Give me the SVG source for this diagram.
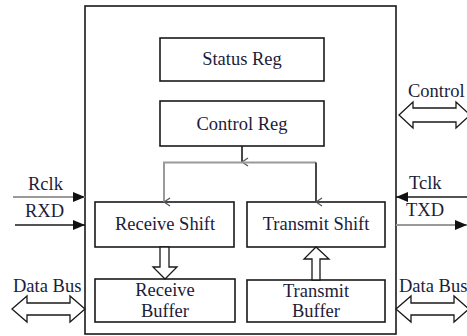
<svg xmlns="http://www.w3.org/2000/svg" width="467" height="336" viewBox="0 0 467 336">
  <defs>
    <style>
      .box { fill: #ffffff; stroke: #1a1a1a; stroke-width: 1.6; }
      .lbl { font-size: 18.5px; fill: #1c1c3a; }
      .mid { text-anchor: middle; }
      .hollow { fill: #ffffff; stroke: #1a1a1a; stroke-width: 1.3; stroke-linejoin: miter; }
      .gray { stroke: #9a9a9a; stroke-width: 2; fill: none; }
      .dark { stroke: #1a1a1a; stroke-width: 1.6; fill: none; }
    </style>
    <marker id="open-tip" viewBox="0 0 10 10" refX="5" refY="9" markerWidth="10" markerHeight="10" markerUnits="userSpaceOnUse" orient="auto-start-reverse">
      <path d="M1,3 L5,9 L9,3" fill="none" stroke="#555" stroke-width="1.3"/>
    </marker>
    <marker id="solid-tip" viewBox="0 0 12 10" refX="12" refY="5" markerWidth="12" markerHeight="10" markerUnits="userSpaceOnUse" orient="auto">
      <path d="M0,0 L12,5 L0,10 Z" fill="#111"/>
    </marker>
  </defs>

  <g font-family="Liberation Serif, DejaVu Serif, serif">
  <!-- enclosing device box -->
  <rect id="device" class="box" x="85" y="6" width="311" height="328"/>

  <g id="status-reg">
    <rect class="box" x="160" y="38" width="164" height="43"/>
    <text class="lbl mid" x="242" y="65">Status Reg</text>
  </g>
  <g id="control-reg">
    <rect class="box" x="160" y="101" width="164" height="45"/>
    <text class="lbl mid" x="242" y="130">Control Reg</text>
  </g>
  <g id="receive-shift">
    <rect class="box" x="95" y="202" width="139" height="45"/>
    <text class="lbl mid" x="165" y="230">Receive Shift</text>
  </g>
  <g id="transmit-shift">
    <rect class="box" x="247" y="202" width="138" height="45"/>
    <text class="lbl mid" x="316" y="230">Transmit Shift</text>
  </g>
  <g id="receive-buffer">
    <rect class="box" x="95" y="279" width="140" height="43"/>
    <text class="lbl mid" x="165" y="296">Receive</text>
    <text class="lbl mid" x="165" y="317">Buffer</text>
  </g>
  <g id="transmit-buffer">
    <rect class="box" x="247" y="280" width="138" height="42"/>
    <text class="lbl mid" x="316" y="297">Transmit</text>
    <text class="lbl mid" x="316" y="317">Buffer</text>
  </g>

  <g id="connectors">
    <!-- control register fan-out -->
    <line class="dark" x1="242" y1="146" x2="242" y2="162" marker-end="url(#open-tip)"/>
    <path class="gray" d="M316,162.5 H164 V202" marker-end="url(#open-tip)"/>
    <line class="dark" x1="316" y1="162.5" x2="316" y2="202" stroke="#444" marker-end="url(#open-tip)"/>

    <!-- receive shift to receive buffer -->
    <path class="hollow" d="M160,247 H169 V267 H177 L165,279 L153,267 H160 Z"/>
    <!-- transmit buffer to transmit shift -->
    <path class="hollow" d="M312,280 H320 V259 H329 L316,247 L304,259 H312 Z"/>

    <!-- serial lines -->
    <line class="gray" x1="13" y1="197" x2="85" y2="197" marker-end="url(#solid-tip)"/>
    <line class="dark" x1="15" y1="225" x2="85" y2="225" stroke-width="2" marker-end="url(#solid-tip)"/>
    <line class="dark" x1="470" y1="197" x2="396" y2="197" stroke-width="2" marker-end="url(#solid-tip)"/>
    <line class="gray" x1="396" y1="225" x2="467" y2="225" marker-end="url(#solid-tip)"/>

    <!-- bus arrows -->
    <path class="hollow" d="M399,115 L413,102 V108 H456 V102 L470,115 L456,128 V122 H413 V128 Z"/>
    <path class="hollow" d="M12,309 L27,296 V303 H70 V296 L85,309 L70,322 V315 H27 V322 Z"/>
    <path class="hollow" d="M396,309 L411,296 V303 H454 V296 L469,309 L454,322 V315 H411 V322 Z"/>
  </g>

  <!-- signal labels -->
  <text class="lbl" x="28" y="190">Rclk</text>
  <text class="lbl" x="25" y="217">RXD</text>
  <text class="lbl" x="409" y="189">Tclk</text>
  <text class="lbl" x="406" y="216">TXD</text>
  <text class="lbl" x="408" y="97">Control</text>
  <text class="lbl" x="13" y="292">Data Bus</text>
  <text class="lbl" x="399" y="292">Data Bus</text>
  </g>
</svg>
